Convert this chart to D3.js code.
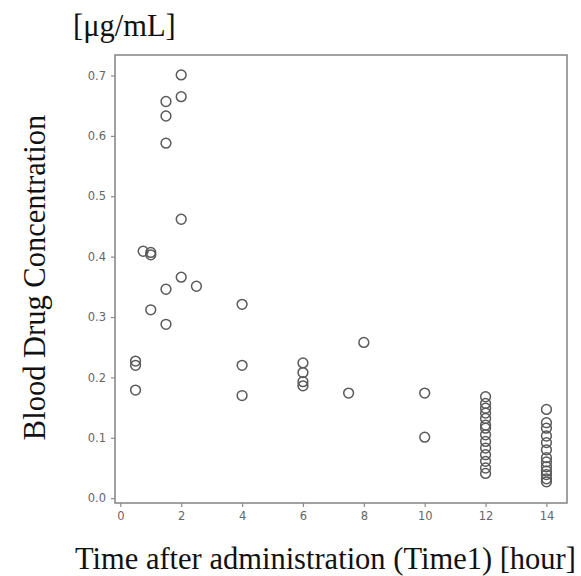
<!DOCTYPE html>
<html>
<head>
<meta charset="utf-8">
<script src="https://cdn.jsdelivr.net/npm/d3@7"></script>
<style>
  body { margin: 0; background: #fff; }
  svg { display: block; }
</style>
</head>
<body>
<div id="chart"></div>
<script>
const times = [
  0.5, 0.5, 0.5,
  0.75, 1, 1, 1,
  1.5, 1.5, 1.5, 1.5, 1.5,
  2, 2, 2, 2,
  2.5,
  4, 4, 4,
  6, 6, 6, 6,
  7.5, 8,
  10, 10,
  12, 12, 12, 12, 12, 12, 12, 12, 12, 12, 12, 12, 12, 12,
  14, 14, 14, 14, 14, 14, 14, 14, 14, 14, 14, 14, 14
];
const concentrations = [
  0.227, 0.220, 0.179,
  0.409, 0.407, 0.403, 0.312,
  0.657, 0.633, 0.588, 0.346, 0.288,
  0.701, 0.665, 0.462, 0.366,
  0.351,
  0.321, 0.220, 0.170,
  0.224, 0.208, 0.193, 0.186,
  0.174, 0.258,
  0.174, 0.101,
  0.168, 0.157, 0.149, 0.141, 0.132, 0.121, 0.116, 0.105, 0.094, 0.083, 0.072, 0.061, 0.050, 0.041,
  0.147, 0.125, 0.116, 0.103, 0.092, 0.080, 0.067, 0.060, 0.052, 0.045, 0.039, 0.032, 0.027
];
const xTicks = [0, 2, 4, 6, 8, 10, 12, 14];
const yTicks = [0.0, 0.1, 0.2, 0.3, 0.4, 0.5, 0.6, 0.7];

const data = times.map((t, i) => ({ t: t, c: concentrations[i] }));

const width = 581;
const height = 576;
const margin = {top: 55, right: 14, bottom: 73, left: 115};
const w = width - margin.left - margin.right;
const h = height - margin.top - margin.bottom;

const svg = d3.select('#chart').append('svg')
  .attr('width', width)
  .attr('height', height);

const x = d3.scaleLinear()
  .domain([-0.175, 14.675])
  .range([0, w]);

const y = d3.scaleLinear()
  .domain([-0.008, 0.734])
  .range([h, 0]);

const g = svg.append('g')
  .attr('transform', `translate(${margin.left},${margin.top})`);

const xAxis = d3.axisBottom(x)
  .tickValues(xTicks)
  .tickFormat(d3.format('d'))
  .tickSizeInner(4)
  .tickSizeOuter(0)
  .tickPadding(5);

const yAxis = d3.axisLeft(y)
  .tickValues(yTicks)
  .tickFormat(d3.format('.1f'))
  .tickSizeInner(4)
  .tickSizeOuter(0)
  .tickPadding(5);

g.append('g')
  .attr('class', 'x axis')
  .attr('transform', `translate(0,${h})`)
  .call(xAxis);

g.append('g')
  .attr('class', 'y axis')
  .call(yAxis);

// box around plot area
g.append('rect')
  .attr('x', 0)
  .attr('y', 0)
  .attr('width', w)
  .attr('height', h)
  .attr('fill', 'none')
  .attr('stroke', '#8a8a8a')
  .attr('stroke-width', 1.6);

g.selectAll('.axis .domain').style('display', 'none');
g.selectAll('.axis line').style('stroke', '#8a8a8a').style('stroke-width', 1.2);
g.selectAll('.axis text')
  .style('font-family', '"DejaVu Sans", sans-serif')
  .style('font-size', '11.5px')
  .style('fill', '#666');

g.selectAll('.dot')
  .data(data)
  .enter().append('circle')
    .attr('class', 'dot')
    .attr('cx', d => x(d.t))
    .attr('cy', d => y(d.c))
    .attr('r', 4.9)
    .attr('fill', 'none')
    .attr('stroke', '#5a5a5a')
    .attr('stroke-width', 1.5);

const serif = '"Liberation Serif", "Times New Roman", serif';

svg.append('text')
  .attr('x', 73)
  .attr('y', 36)
  .style('font-family', serif)
  .style('font-size', '30.5px')
  .style('fill', '#111')
  .text('[μg/mL]');

svg.append('text')
  .attr('transform', `translate(45, 277.5) rotate(-90)`)
  .style('text-anchor', 'middle')
  .style('font-family', serif)
  .style('font-size', '30.5px')
  .style('fill', '#111')
  .text('Blood Drug Concentration');

svg.append('text')
  .attr('x', 75)
  .attr('y', 569)
  .style('font-family', serif)
  .style('font-size', '30.5px')
  .style('fill', '#111')
  .text('Time after administration (Time1) [hour]');
</script>
</body>
</html>
